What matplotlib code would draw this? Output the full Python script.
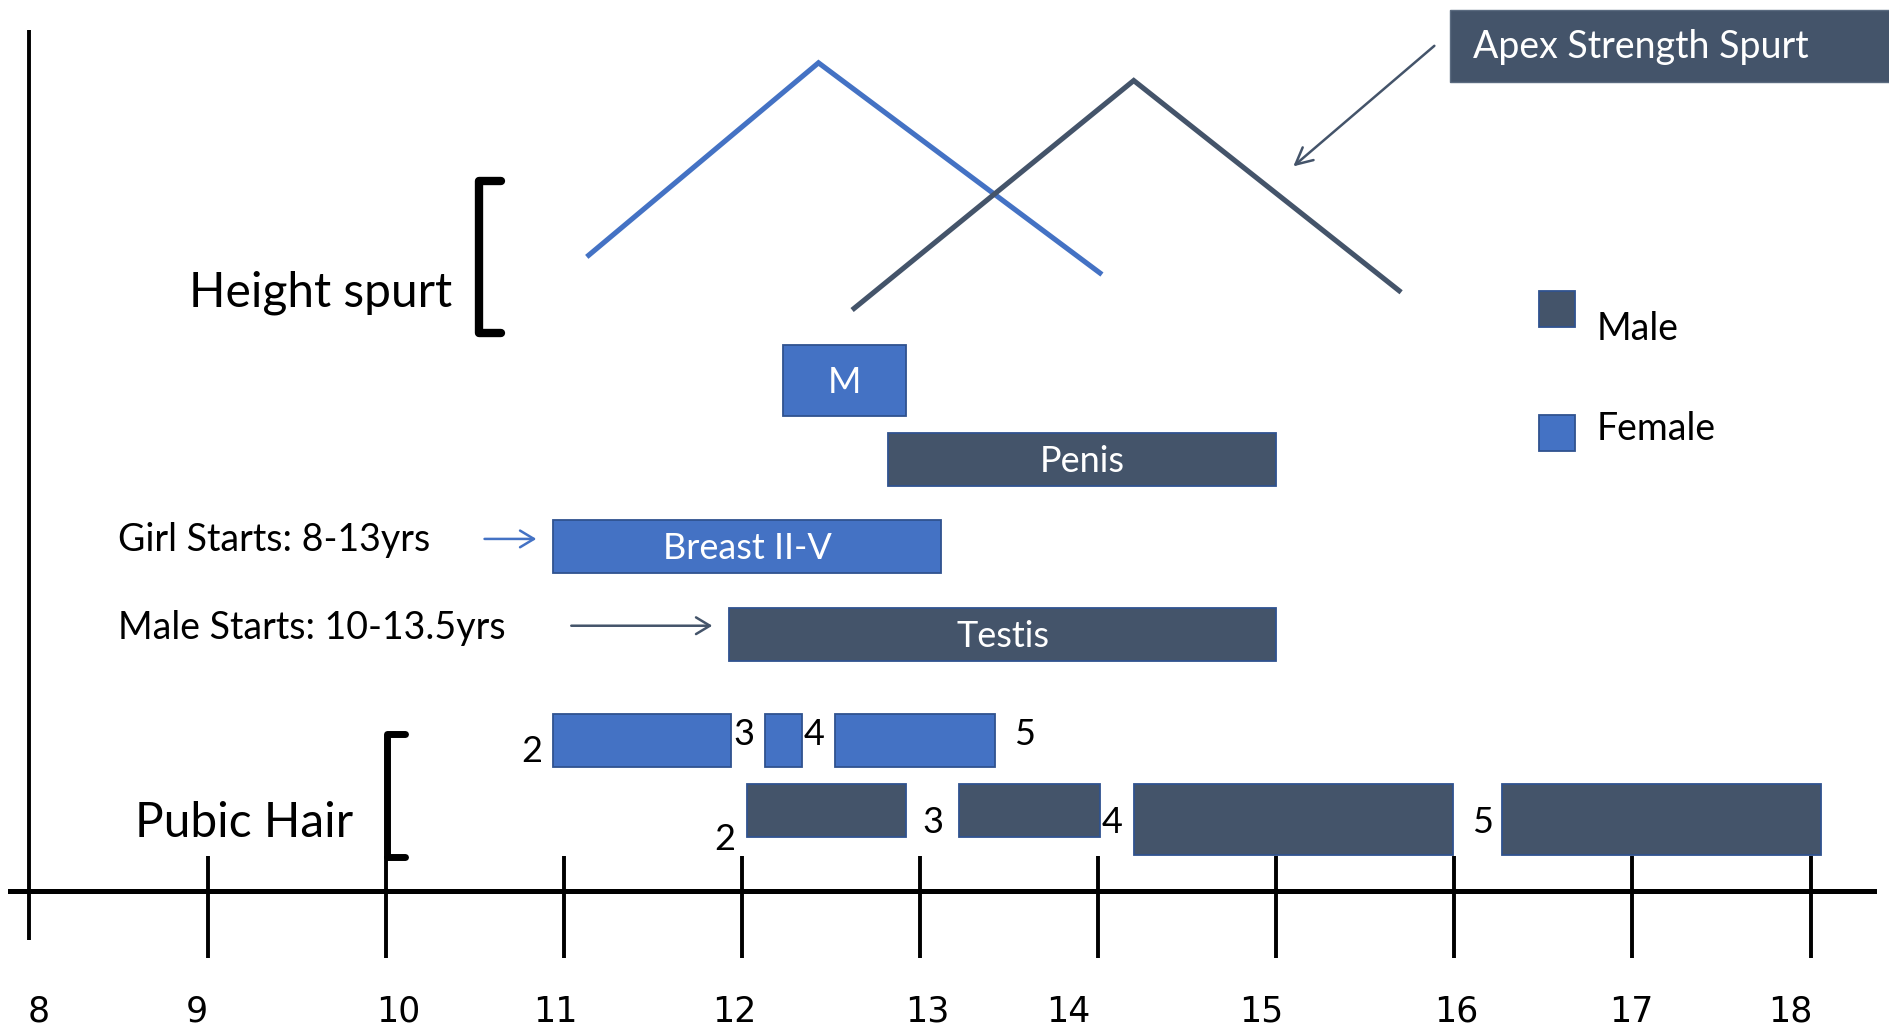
import matplotlib

matplotlib.use("Agg")
import matplotlib.pyplot as plt
import matplotlib.transforms as mtransforms
from matplotlib.patches import Rectangle, FancyArrowPatch
from matplotlib.lines import Line2D

plt.rcParams["font.family"] = ["Lato", "DejaVu Sans"]

FEMALE = "#4472C4"
MALE = "#44546A"
EDGE = "#2F528F"

AGE_TICKS = [8, 9, 10, 11, 12, 13, 14, 15, 16, 17, 18]

# height velocity spurts (age, relative level 0..1)
SPURT_F_AGE = [11.14, 12.43, 14.01]
SPURT_F_LEVEL = [0.23, 0.99, 0.16]
SPURT_M_AGE = [12.63, 14.20, 15.69]
SPURT_M_LEVEL = [0.02, 0.92, 0.09]

# labelled development bars
BAR_LABELS = ["M", "Penis", "Breast II-V", "Testis"]
BAR_START = [12.23, 12.82, 10.94, 11.93]
BAR_END = [12.92, 15.00, 13.12, 15.00]
BAR_SEX = ["F", "M", "F", "M"]

# pubic hair Tanner stages
PUBIC_F_START = [10.94, 12.13, 12.52]
PUBIC_F_END = [11.94, 12.34, 13.42]
PUBIC_F_STAGES = ["2", "3", "4", "5"]
PUBIC_M_START = [12.03, 13.22, 14.20, 16.27]
PUBIC_M_END = [12.92, 14.01, 15.99, 18.06]
PUBIC_M_STAGES = ["2", "3", "4", "5"]

# page frame is 1568 x 851 units, y pointing down
PAGE_W, PAGE_H = 1568, 851
PX_PER_YEAR = 147.76
AGE_AT_ORIGIN = 14.5 - 984.9 / PX_PER_YEAR

fig = plt.figure(figsize=(18.9, 10.26), dpi=100)
ax = fig.add_axes([0, 0, 1, 1])
ax.set_xlim(AGE_AT_ORIGIN, AGE_AT_ORIGIN + PAGE_W / PX_PER_YEAR)
ax.set_ylim(PAGE_H, 0)
ax.axis("off")

page = mtransforms.Affine2D().scale(1 / PAGE_W, -1 / PAGE_H).translate(0, 1) + fig.transFigure


def colour(sex):
    return FEMALE if sex == "F" else MALE


# axes
ax.add_line(Line2D([8, 1555], [739, 739], transform=page, color="black", lw=3.6))
ax.vlines(AGE_TICKS[0], 25, 780, color="black", lw=2.8)
ax.vlines(AGE_TICKS[1:], 710, 795, color="black", lw=2.8)
label_x = [32, 163, 330, 461, 609, 769, 886, 1046, 1208, 1353, 1485]
for lx, age in zip(label_x, AGE_TICKS):
    ax.text(lx, 839, str(age), transform=page, ha="center", va="center",
            fontsize=25, family=["Liberation Sans Narrow", "DejaVu Sans"])

# height spurt
base, span = 260, 210
ax.plot(SPURT_F_AGE, [base - v * span for v in SPURT_F_LEVEL], color=FEMALE, lw=3.7,
        solid_joinstyle="miter")
ax.plot(SPURT_M_AGE, [base - v * span for v in SPURT_M_LEVEL], color=MALE, lw=3.7,
        solid_joinstyle="miter")

# stage bars
rows = [(286, 345), (359, 403), (431, 475), (504, 548)]
for label, x0, x1, sex, (top, bot) in zip(BAR_LABELS, BAR_START, BAR_END, BAR_SEX, rows):
    ax.add_patch(Rectangle((x0, top), x1 - x0, bot - top, facecolor=colour(sex),
                           edgecolor=EDGE, lw=1.3))
    ax.text((x0 + x1) / 2, (top + bot) / 2 + 2, label, color="white", ha="center",
            va="center", fontsize=26)

# pubic hair
for x0, x1 in zip(PUBIC_F_START, PUBIC_F_END):
    ax.add_patch(Rectangle((x0, 592), x1 - x0, 44, facecolor=FEMALE, edgecolor=EDGE, lw=1.3))
for i, (x0, x1) in enumerate(zip(PUBIC_M_START, PUBIC_M_END)):
    h = 44 if i < 2 else 59
    ax.add_patch(Rectangle((x0, 650), x1 - x0, h, facecolor=MALE, edgecolor=EDGE, lw=1.3))

for (sx, sy), s in zip([(441, 623), (617, 609), (675, 609), (850, 609)], PUBIC_F_STAGES):
    ax.text(sx, sy, s, transform=page, ha="center", va="center", fontsize=26)
for (sx, sy), s in zip([(601, 696), (774, 682), (923, 682), (1230, 682)], PUBIC_M_STAGES):
    ax.text(sx, sy, s, transform=page, ha="center", va="center", fontsize=26)


# side labels and brackets
def bracket(x, y0, y1, w, lw):
    ax.add_line(Line2D([x + w, x, x, x + w], [y0, y0, y1, y1], transform=page,
                       color="black", lw=lw, solid_capstyle="round",
                       solid_joinstyle="round"))


ax.text(375, 243, "Height spurt", transform=page, ha="right", va="center", fontsize=34.5)
bracket(397, 150, 276, 19, 6.0)
ax.text(293, 683, "Pubic Hair", transform=page, ha="right", va="center", fontsize=34.5)
bracket(321, 609, 711, 15, 5.0)

ax.text(98, 448, "Girl Starts: 8-13yrs", transform=page, ha="left", va="center", fontsize=27)
ax.text(98, 521, "Male Starts: 10-13.5yrs", transform=page, ha="left", va="center", fontsize=27)
ax.add_patch(FancyArrowPatch((10.555, 447), (10.846, 447), arrowstyle="->,head_length=10,head_width=6",
                             color=FEMALE, lw=1.8, shrinkA=0, shrinkB=0))
ax.add_patch(FancyArrowPatch((11.042, 519), (11.834, 519), arrowstyle="->,head_length=10,head_width=6",
                             color=MALE, lw=1.8, shrinkA=0, shrinkB=0))

# legend
ax.add_patch(Rectangle((1277, 241), 30, 30, transform=page, facecolor=MALE, edgecolor=EDGE, lw=1.3))
ax.text(1325, 273, "Male", transform=page, ha="left", va="center", fontsize=27)
ax.add_patch(Rectangle((1277, 344), 30, 30, transform=page, facecolor=FEMALE, edgecolor=EDGE, lw=1.3))
ax.text(1325, 356, "Female", transform=page, ha="left", va="center", fontsize=27)

# apex callout
ax.add_patch(Rectangle((1203, 8), 380, 60, transform=page, facecolor=MALE, edgecolor="#5B6B80", lw=1))
ax.text(1222, 39, "Apex Strength Spurt", transform=page, ha="left", va="center",
        color="white", fontsize=27)
ax.add_patch(FancyArrowPatch((15.888, 38), (15.096, 138), arrowstyle="->,head_length=12,head_width=6",
                             color=MALE, lw=1.8, shrinkA=0, shrinkB=0))

fig.savefig("out.png", dpi=100, facecolor="white")
